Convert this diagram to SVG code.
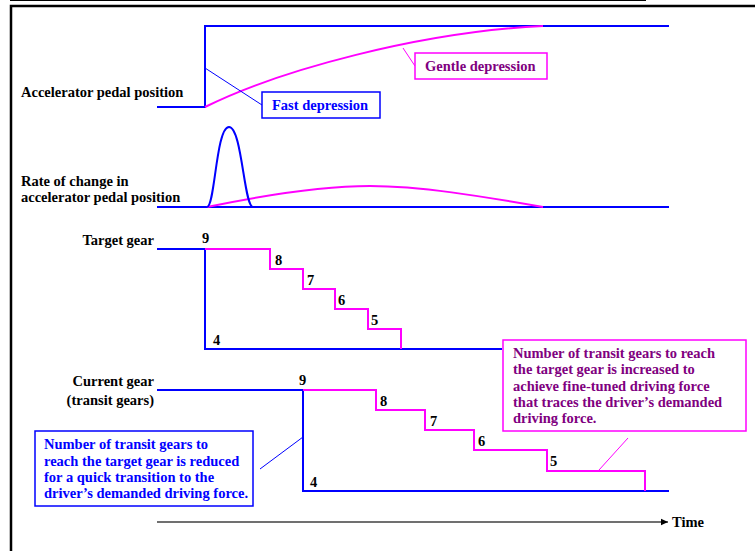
<svg xmlns="http://www.w3.org/2000/svg" width="755" height="551" viewBox="0 0 755 551">
<style>
text{font-family:"Liberation Serif","Times New Roman",serif;font-weight:bold;font-size:14.5px;fill:#000}
.blue{fill:none;stroke:#0000ff;stroke-width:2}
.mag{fill:none;stroke:#ff00ff;stroke-width:2}
.lb{fill:none;stroke:#0000ff;stroke-width:1}
.lm{fill:none;stroke:#ff00ff;stroke-width:1}
.bt{fill:#0000ff}
.pt{fill:#800080}
.r{text-anchor:end}
</style>
<defs>
<marker id="arr" markerWidth="8" markerHeight="8" refX="7" refY="4" orient="auto" markerUnits="userSpaceOnUse">
<path d="M0,0.8 L7,4 L0,7.2 Z" fill="#000"/>
</marker>
</defs>
<rect width="755" height="551" fill="#fff"/>
<g id="frame">
<line x1="10" y1="0.5" x2="646" y2="0.5" stroke="#000" stroke-width="1.2"/>
<polyline points="11,551 11,6 755,6" fill="none" stroke="#000" stroke-width="2.5"/>
</g>
<g id="connectors">
<polyline class="blue" points="157,107 205,107 205,26 669,26"/>
<path class="mag" d="M205,107 C280,70 420,32 543,26"/>
<line class="lb" x1="205" y1="68" x2="262" y2="105"/>
<line class="lm" x1="403" y1="48" x2="415" y2="66"/>
<line class="blue" x1="157" y1="207" x2="669" y2="207"/>
<path class="mag" d="M207,207 C260,196 320,186 370,186 C420,186 480,196 543,207"/>
<path class="blue" d="M207,207 C215,207 216,127 229,127 C242,127 244,207 253,207"/>
<polyline class="blue" points="157,249 205,249 205,349 502,349"/>
<polyline class="mag" points="205,249 270,249 270,269 303,269 303,289 335,289 335,309 368,309 368,329 401,329 401,349"/>
<line class="lm" x1="628" y1="438" x2="599" y2="470"/>
<polyline class="blue" points="157,390 303,390 303,491 669,491"/>
<polyline class="mag" points="303,390 376,390 376,410 425,410 425,430 474,430 474,450 547,450 547,471 645,471 645,491"/>
<line class="lb" x1="260" y1="469" x2="303" y2="437"/>
<line x1="157" y1="522" x2="668" y2="522" stroke="#404040" stroke-width="1.3" marker-end="url(#arr)"/>
</g>
<g id="labels">
<text x="21" y="97">Accelerator pedal position</text>
<text x="21" y="186">Rate of change in</text>
<text x="21" y="202">accelerator pedal position</text>
<text class="r" x="154" y="245">Target gear</text>
<text class="r" x="154" y="386">Current gear</text>
<text class="r" x="154" y="405">(transit gears)</text>
<text x="672" y="527">Time</text>
</g>
<g id="target-numbers">
<text x="202" y="243">9</text>
<text x="275" y="265">8</text>
<text x="307" y="285">7</text>
<text x="338" y="305">6</text>
<text x="371" y="325">5</text>
<text x="213" y="345">4</text>
</g>
<g id="current-numbers">
<text x="299" y="385">9</text>
<text x="380" y="406">8</text>
<text x="430" y="426">7</text>
<text x="478" y="446">6</text>
<text x="550" y="466">5</text>
<text x="310" y="487">4</text>
</g>
<g id="fast-depression">
<rect x="262" y="92" width="118" height="26" fill="#fff" stroke="#0000ff" stroke-width="1.5"/>
<text class="bt" x="272" y="110">Fast depression</text>
</g>
<g id="gentle-depression">
<rect x="415" y="53" width="132" height="26" fill="#fff" stroke="#ff00ff" stroke-width="1.5"/>
<text class="pt" x="425" y="71">Gentle depression</text>
</g>
<g id="note-increase">
<rect x="503" y="340" width="243" height="91" fill="#fff" stroke="#ff00ff" stroke-width="1.5"/>
<text class="pt" x="513" y="358">Number of transit gears to reach</text>
<text class="pt" x="513" y="374">the target gear is increased to</text>
<text class="pt" x="513" y="391">achieve fine-tuned driving force</text>
<text class="pt" x="513" y="407">that traces the driver’s demanded</text>
<text class="pt" x="513" y="423">driving force.</text>
</g>
<g id="note-reduce">
<rect x="35" y="431" width="218" height="75" fill="#fff" stroke="#0000ff" stroke-width="1.5"/>
<text class="bt" x="44" y="449">Number of transit gears to</text>
<text class="bt" x="44" y="466">reach the target gear is reduced</text>
<text class="bt" x="44" y="482">for a quick transition to the</text>
<text class="bt" x="44" y="498">driver’s demanded driving force.</text>
</g>
</svg>
